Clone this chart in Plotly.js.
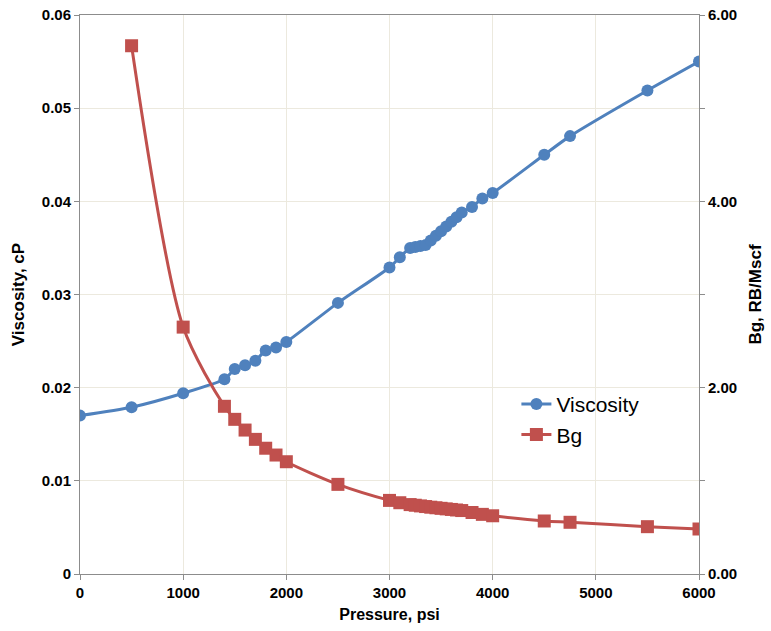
<!DOCTYPE html>
<html>
<head>
<meta charset="utf-8">
<script src="https://cdn.plot.ly/plotly-3.0.1.min.js"></script>
<style>
  html, body { margin: 0; padding: 0; background: #ffffff; }
  #chart { width: 771px; height: 631px; }
</style>
</head>
<body>
<div id="chart"></div>
<script>
// Gas viscosity (cP) versus pressure (psi)
const viscPressure = [0, 500, 1000, 1400, 1500, 1600, 1700, 1800, 1900, 2000, 2500, 3000, 3100,
  3200, 3250, 3300, 3350, 3400, 3450, 3500, 3550, 3600, 3650, 3700, 3800, 3900, 4000, 4500, 4750, 5500, 6000];
const viscosity = [0.0170, 0.0179, 0.0194, 0.0209, 0.0220, 0.0224, 0.0229, 0.0240, 0.0243, 0.0249, 0.0291, 0.0329, 0.0340,
  0.0350, 0.0351, 0.0352, 0.0353, 0.0358, 0.0363, 0.0368, 0.0373, 0.0378, 0.0383, 0.0388, 0.0394, 0.0403, 0.0409, 0.0450, 0.0470, 0.0519, 0.0550];

// Gas formation volume factor Bg (RB/Mscf) versus pressure (psi)
const bgPressure = [500, 1000, 1400, 1500, 1600, 1700, 1800, 1900, 2000, 2500, 3000, 3100,
  3200, 3250, 3300, 3350, 3400, 3450, 3500, 3550, 3600, 3650, 3700, 3800, 3900, 4000, 4500, 4750, 5500, 6000];
const bg = [5.67, 2.65, 1.80, 1.66, 1.545, 1.445, 1.35, 1.277, 1.205, 0.962, 0.790, 0.765,
  0.745, 0.738, 0.731, 0.724, 0.717, 0.711, 0.705, 0.699, 0.693, 0.687, 0.681, 0.660, 0.640, 0.625, 0.569, 0.555, 0.508, 0.483];

// Axis tick labels
const viscTicks = [0, 0.01, 0.02, 0.03, 0.04, 0.05, 0.06];
const viscTickText = ['0', '0.01', '0.02', '0.03', '0.04', '0.05', '0.06'];
const bgTicks = [0, 1, 2, 3, 4, 5, 6];
const bgTickText = ['0.00', '', '2.00', '', '4.00', '', '6.00'];
const pressureTicks = [0, 1000, 2000, 3000, 4000, 5000, 6000];

const blue = '#4F81BD';
const red = '#C0504D';
const gridColor = '#ECE9DE';
const axisColor = '#8C8C8C';
const family = '"Liberation Sans", Arial, sans-serif';
const tickFont = { family: family, size: 15, color: '#000000', weight: 'bold' };
const xTitleFont = { family: family, size: 16, color: '#000000', weight: 'bold' };
const yTitleFont = { family: family, size: 17, color: '#000000', weight: 'bold' };

const traces = [
  {
    x: viscPressure, y: viscosity, name: 'Viscosity', type: 'scatter', mode: 'lines+markers',
    line: { color: blue, width: 3, shape: 'spline', smoothing: 0.6 },
    marker: { color: blue, size: 12, symbol: 'circle' },
    yaxis: 'y'
  },
  {
    x: bgPressure, y: bg, name: 'Bg', type: 'scatter', mode: 'lines+markers',
    line: { color: red, width: 3, shape: 'spline', smoothing: 0.8 },
    marker: { color: red, size: 13, symbol: 'square' },
    yaxis: 'y2'
  }
];

const layout = {
  width: 771, height: 631,
  margin: { l: 80, r: 72, t: 15, b: 57 },
  paper_bgcolor: '#ffffff', plot_bgcolor: '#ffffff',
  showlegend: true,
  legend: {
    x: 0.705, y: 0.34, xanchor: 'left', yanchor: 'top',
    bgcolor: 'rgba(0,0,0,0)',
    font: { family: family, size: 21, color: '#000000' },
    itemwidth: 30, tracegroupgap: 0
  },
  xaxis: {
    range: [0, 6000], tickvals: pressureTicks,
    showgrid: true, gridcolor: gridColor, gridwidth: 1,
    zeroline: false, showline: true, linecolor: axisColor, linewidth: 1, mirror: true,
    ticks: 'outside', ticklen: 5, tickcolor: axisColor,
    tickfont: tickFont,
    title: { text: 'Pressure, psi', font: xTitleFont, standoff: 8 }
  },
  yaxis: {
    range: [0, 0.06], tickvals: viscTicks, ticktext: viscTickText,
    showgrid: true, gridcolor: gridColor, gridwidth: 1,
    zeroline: false, showline: true, linecolor: axisColor, linewidth: 1,
    ticks: 'outside', ticklen: 5, tickcolor: axisColor,
    tickfont: tickFont,
    title: { text: 'Viscosity, cP', font: yTitleFont, standoff: 12 }
  },
  yaxis2: {
    range: [0, 6], tickvals: bgTicks, ticktext: bgTickText,
    overlaying: 'y', side: 'right',
    showgrid: false, zeroline: false, showline: true, linecolor: axisColor, linewidth: 1,
    ticks: 'outside', ticklen: 5, tickcolor: axisColor,
    tickfont: tickFont,
    title: { text: 'Bg, RB/Mscf', font: yTitleFont, standoff: 12 }
  }
};

Plotly.newPlot('chart', traces, layout, { displayModeBar: false, staticPlot: true });
</script>
</body>
</html>
